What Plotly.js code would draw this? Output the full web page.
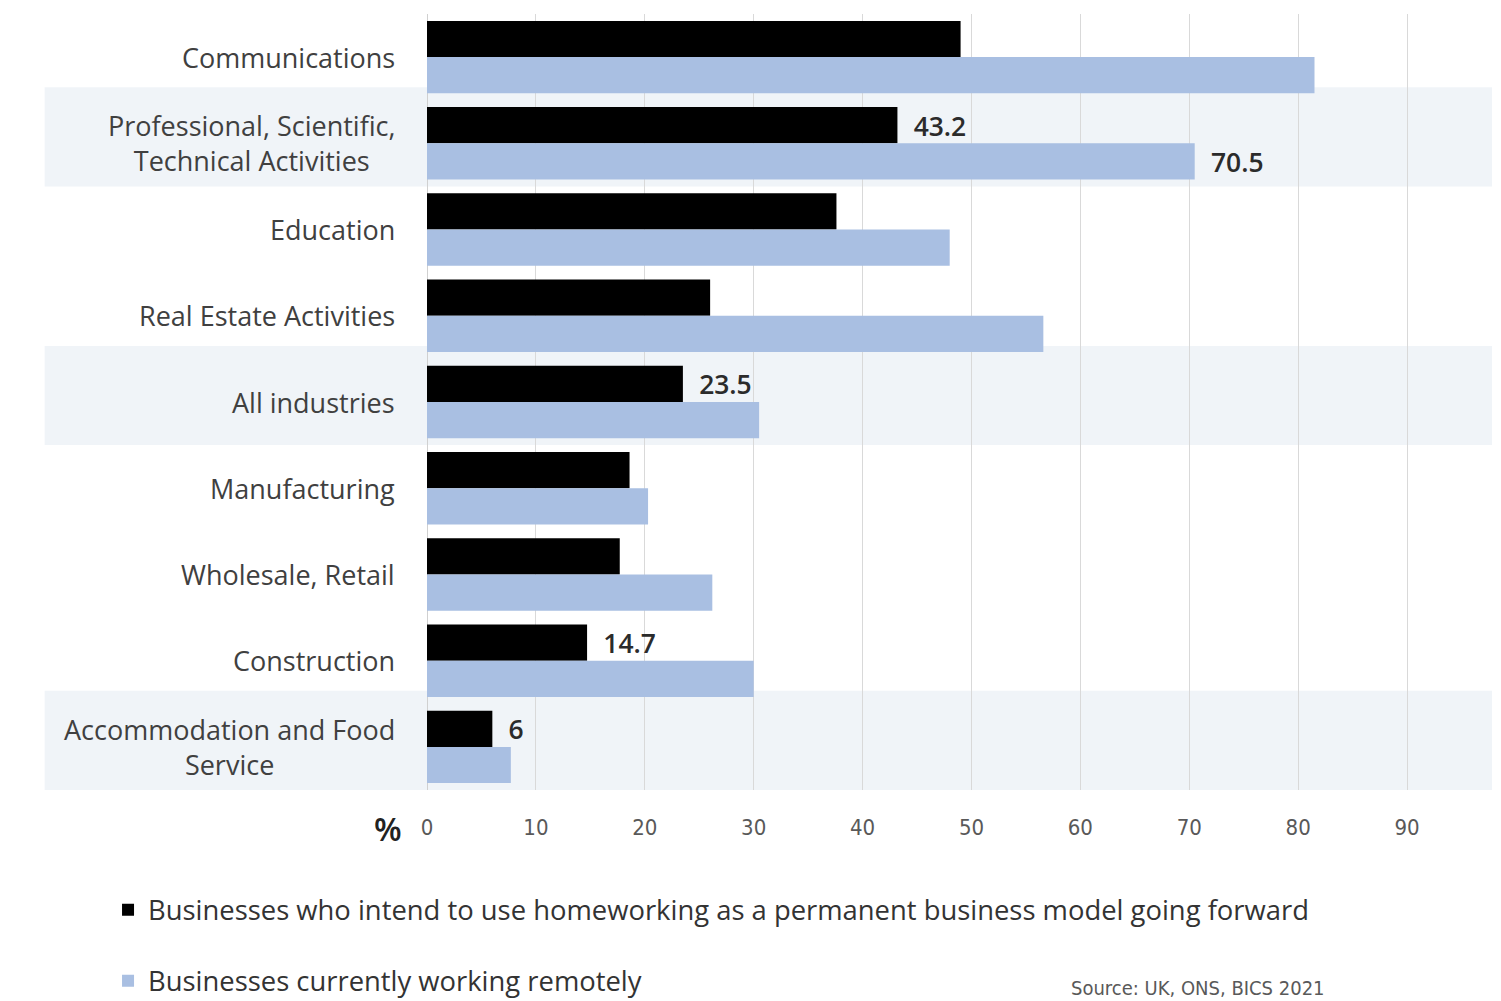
<!DOCTYPE html>
<html>
<head>
<meta charset="utf-8">
<script src="https://cdn.plot.ly/plotly-3.0.1.min.js"></script>
<style>body{margin:0;background:#fff}#chart{width:1501px;height:1001px}</style>
</head>
<body>
<div id="chart"></div>
<script>
const categories = [
  "Communications",
  "Professional, Scientific,<br>Technical Activities",
  "Education",
  "Real Estate Activities",
  "All industries",
  "Manufacturing",
  "Wholesale, Retail",
  "Construction",
  "Accommodation and Food<br>Service"
];
const permanentHomeworking = [49.0, 43.2, 37.6, 26.0, 23.5, 18.6, 17.7, 14.7, 6];
const workingRemotely = [81.5, 70.5, 48.0, 56.6, 30.5, 20.3, 26.2, 30.0, 7.7];
const permanentLabels = ["", "43.2", "", "", "23.5", "", "", "14.7", "6"];
const remoteLabels = ["", "70.5", "", "", "", "", "", "", ""];
const highlightedRows = [1, 4, 8];
const seriesNames = [
  "Businesses who intend to use homeworking as a permanent business model going forward",
  "Businesses currently working remotely"
];
const xTicks = [0, 10, 20, 30, 40, 50, 60, 70, 80, 90];

const pad = t => (t ? "\u2002" + t : "");
const labelFont = {family: "Open Sans, sans-serif", size: 27, color: "#2b2b2b", weight: 600};
const legendFont = {family: "Open Sans, sans-serif", size: 27.4, color: "#333333"};

const traces = [
  {
    type: "bar", orientation: "h", name: seriesNames[0],
    y: categories, x: permanentHomeworking,
    marker: {color: "#000000"},
    text: permanentLabels.map(pad), textposition: "outside", cliponaxis: false,
    textfont: labelFont, legend: "legend"
  },
  {
    type: "bar", orientation: "h", name: seriesNames[1],
    y: categories, x: workingRemotely,
    marker: {color: "#a9bfe2"},
    text: remoteLabels.map(pad), textposition: "outside", cliponaxis: false,
    textfont: labelFont, legend: "legend2"
  }
];

const shapes = highlightedRows.map(i => ({
  type: "rect", xref: "paper", yref: "y", layer: "below",
  x0: -0.359, x1: 1.0, y0: i - 0.65, y1: i + 0.5,
  fillcolor: "#f0f4f8", line: {width: 0}
}));

const categoryAnnotations = categories.map(c => ({
  text: c, xref: "paper", yref: "y", x: -0.0282, y: c,
  xanchor: "right", yanchor: "middle", align: "center", showarrow: false,
  font: {family: "Open Sans, sans-serif", size: 27, color: "#404040"}
}));

const layout = {
  width: 1501, height: 1001,
  margin: {l: 427, r: 9, t: 14, b: 211, autoexpand: false},
  paper_bgcolor: "#ffffff", plot_bgcolor: "rgba(0,0,0,0)",
  barmode: "group", bargap: 0.16, bargroupgap: 0,
  showlegend: true,
  font: {family: "Open Sans, sans-serif", color: "#404040"},
  xaxis: {
    range: [0, 97.8], tickvals: xTicks, ticktext: xTicks.map(String),
    showgrid: true, gridcolor: "#d9d9d9", gridwidth: 1,
    zeroline: true, zerolinecolor: "#d0d0d0", zerolinewidth: 1,
    showline: false, ticks: "",
    tickfont: {family: "DejaVu Sans Condensed, Liberation Sans Narrow, sans-serif", size: 22, color: "#595959"},
    ticklabelstandoff: 22, fixedrange: true
  },
  yaxis: {
    autorange: "reversed", type: "category",
    showgrid: false, zeroline: false, showline: false, ticks: "",
    showticklabels: false, fixedrange: true
  },
  shapes: shapes,
  legend: {
    x: -0.2995, y: -0.1546, xanchor: "left", yanchor: "middle",
    orientation: "v", bgcolor: "rgba(0,0,0,0)",
    font: legendFont, itemwidth: 30
  },
  legend2: {
    x: -0.2995, y: -0.246, xanchor: "left", yanchor: "middle",
    orientation: "v", bgcolor: "rgba(0,0,0,0)",
    font: legendFont, itemwidth: 30
  },
  annotations: categoryAnnotations.concat([
    {text: "%", xref: "paper", yref: "paper", x: -0.037, y: -0.049,
     xanchor: "center", yanchor: "middle", showarrow: false,
     font: {family: "Open Sans, sans-serif", size: 32, color: "#222222", weight: 600}},
    {text: "Source: UK, ONS, BICS 2021", xref: "paper", yref: "paper",
     x: 0.603, y: -0.2735, xanchor: "left", yanchor: "bottom", showarrow: false,
     font: {family: "DejaVu Sans Condensed, sans-serif", size: 20, color: "#595959"}}
  ])
};

Plotly.newPlot("chart", traces, layout, {displayModeBar: false, staticPlot: true});
</script>
</body>
</html>
